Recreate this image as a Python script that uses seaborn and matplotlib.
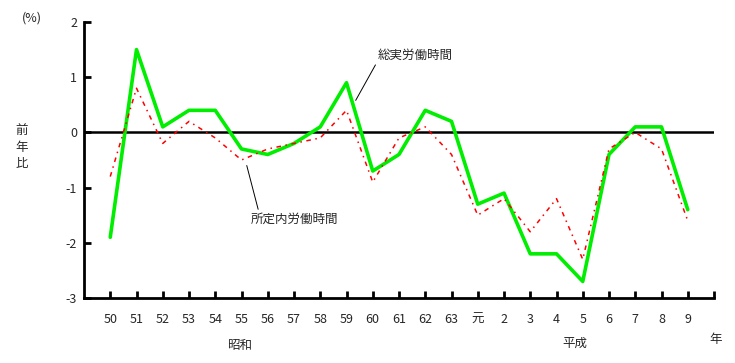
import matplotlib
matplotlib.use('Agg')
import matplotlib.pyplot as plt
import seaborn as sns
import pandas as pd

# Data (year-on-year change, %)
years = ['50', '51', '52', '53', '54', '55', '56', '57', '58', '59', '60', '61', '62', '63',
         '元', '2', '3', '4', '5', '6', '7', '8', '9']
totalHours = [-1.9, 1.5, 0.1, 0.4, 0.4, -0.3, -0.4, -0.2, 0.1, 0.9, -0.7, -0.4, 0.4, 0.2,
              -1.3, -1.1, -2.2, -2.2, -2.7, -0.4, 0.1, 0.1, -1.4]
scheduledHours = [-0.8, 0.8, -0.2, 0.2, -0.1, -0.5, -0.3, -0.2, -0.1, 0.4, -0.9, -0.1, 0.1, -0.4,
                  -1.5, -1.2, -1.8, -1.2, -2.3, -0.3, 0.0, -0.3, -1.6]
yTicks = [2, 1, 0, -1, -2, -3]

sns.set_style('white')
plt.rcParams['font.family'] = ['Noto Sans CJK JP', 'DejaVu Sans']

df = pd.DataFrame({
  'pos': list(range(len(years))) * 2,
  'val': totalHours + scheduledHours,
  'series': ['総実労働時間'] * len(years) + ['所定内労働時間'] * len(years),
})

fig = plt.figure(figsize=(7.35, 3.63), dpi=100)
ax = fig.add_axes([84 / 735, 1 - 298 / 363, (714 - 84) / 735, (298 - 22) / 363])

sns.lineplot(data=df[df.series == '総実労働時間'], x='pos', y='val', color='#00ee00',
             linewidth=2.6, ax=ax, legend=False)
sns.lineplot(data=df[df.series == '所定内労働時間'], x='pos', y='val', color='#ff0000',
             linewidth=1.1, linestyle=(0, (3, 3, 1, 3)), ax=ax, legend=False)

ax.axhline(0, color='black', linewidth=1.8, zorder=1)

ax.set_xlim(-1, len(years))
ax.set_ylim(-3, 2)
ax.set_yticks(yTicks)
ax.set_yticklabels([str(t) for t in yTicks], fontsize=9)
ax.set_xticks(range(len(years) + 1))
ax.set_xticklabels(years + [''], fontsize=9)
ax.set_xlabel('')
ax.set_ylabel('')

for side in ['top', 'right']:
  ax.spines[side].set_visible(False)
for side in ['left', 'bottom']:
  ax.spines[side].set_linewidth(2)
  ax.spines[side].set_color('black')
ax.tick_params(axis='both', direction='in', length=5, width=2, color='black',
               left=True, bottom=True)
ax.tick_params(axis='x', pad=11)
ax.tick_params(axis='y', pad=5)

# Annotations
ax.annotate('総実労働時間', xy=(9.35, 0.58), xytext=(10.2, 1.4), fontsize=9,
            ha='left', va='center',
            arrowprops=dict(arrowstyle='-', color='black', lw=0.7, shrinkA=0, shrinkB=0,
                            relpos=(0, 0.1)))
ax.annotate('所定内労働時間', xy=(5.2, -0.6), xytext=(7.0, -1.57), fontsize=9,
            ha='center', va='center',
            arrowprops=dict(arrowstyle='-', color='black', lw=0.7, shrinkA=0, shrinkB=0,
                            relpos=(0.1, 1.0)))

fig.text(32 / 735, 1 - 18 / 363, '(%)', fontsize=9, ha='center', va='center')
fig.text(22 / 735, 1 - 147 / 363, '前\n年\n比', fontsize=9, ha='center', va='center',
         linespacing=1.4)
fig.text(240 / 735, 1 - 345 / 363, '昭和', fontsize=9, ha='center', va='center')
fig.text(575 / 735, 1 - 343 / 363, '平成', fontsize=9, ha='center', va='center')
fig.text(716 / 735, 1 - 340 / 363, '年', fontsize=9, ha='center', va='center')

fig.savefig('out.png', dpi=100)
